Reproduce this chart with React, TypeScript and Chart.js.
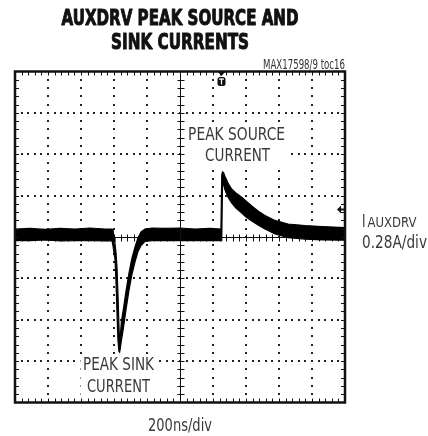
import React, { useEffect, useRef } from "react";
import { Chart, registerables } from "chart.js";

Chart.register(...registerables);

// ---- data (time in ns, current in A) ----
const timeNs = [
  0, 91, 182, 273, 364, 455, 545, 588, 594, 600, 606, 612, 618, 624, 630, 634, 638, 645, 658, 673,
  691, 709, 727, 745, 764, 788, 830, 909, 1000, 1091, 1182, 1248, 1253, 1258, 1264, 1273, 1291, 1313,
  1339, 1374, 1400, 1435, 1473, 1515, 1576, 1655, 1758, 1861, 2000,
];
const upperA = [
  0.054, 0.058, 0.051, 0.058, 0.054, 0.061, 0.054, 0.054, 0.047, 0.0, -0.047, -0.102, -0.2, -0.38,
  -0.6, -0.711, -0.67, -0.57, -0.48, -0.365, -0.243, -0.142, -0.068, -0.007, 0.034, 0.054, 0.061,
  0.058, 0.061, 0.054, 0.058, 0.054, 0.42, 0.44, 0.436, 0.41, 0.365, 0.325, 0.298, 0.27, 0.244,
  0.21, 0.176, 0.146, 0.112, 0.088, 0.078, 0.071, 0.064,
];
const lowerA = [
  -0.024, -0.024, -0.02, -0.027, -0.024, -0.024, -0.027, -0.024, -0.06, -0.11, -0.15, -0.3, -0.51,
  -0.7, -0.775, -0.78, -0.755, -0.7, -0.61, -0.49, -0.36, -0.252, -0.17, -0.1, -0.058, -0.03,
  -0.024, -0.024, -0.024, -0.024, -0.024, -0.024, -0.024, 0.372, 0.355, 0.318, 0.27, 0.23, 0.196, 0.162,
  0.135, 0.108, 0.081, 0.054, 0.02, -0.004, -0.014, -0.02, -0.022,
];

const xMinNs = 0;
const xMaxNs = 2000;
const xDivNs = 200;
const yDivA = 0.28;
const yMinA = -1.12;
const yMaxA = 1.12;
const triggerNs = 1250;
const markerLevelA = 0.19;
const sourceLabelNs = 1343;
const sinkLabelNs = 627;

const titleLines = ["AUXDRV PEAK SOURCE AND", "SINK CURRENTS"];
const tocLabel = "MAX17598/9 toc16";
const sourceLabel = ["PEAK SOURCE", "CURRENT"];
const sinkLabel = ["PEAK SINK", "CURRENT"];
const xUnitLabel = "200ns/div";
const yNameMain = "I";
const yNameSub = "AUXDRV";
const yUnitLabel = "0.28A/div";

const FAM = "'DejaVu Sans', sans-serif";

// draws text horizontally condensed so that it spans `width` pixels
function fitText(
  ctx: CanvasRenderingContext2D,
  text: string,
  x: number,
  y: number,
  width: number,
  align: "left" | "center" | "right",
  strokeW = 0
) {
  const w = ctx.measureText(text).width;
  const s = width / w;
  let left = x;
  if (align === "center") left = x - width / 2;
  else if (align === "right") left = x - width;
  ctx.save();
  ctx.translate(left, y);
  ctx.scale(s, 1);
  ctx.textAlign = "left";
  ctx.textBaseline = "middle";
  ctx.fillText(text, 0, 0);
  if (strokeW > 0) {
    ctx.strokeStyle = ctx.fillStyle as string;
    ctx.lineWidth = strokeW;
    ctx.lineJoin = "round";
    ctx.strokeText(text, 0, 0);
  }
  ctx.restore();
}

function whiteBox(ctx: CanvasRenderingContext2D, cx: number, top: number, bottom: number, width: number) {
  ctx.save();
  ctx.fillStyle = "#fff";
  ctx.fillRect(cx - width / 2, top, width, bottom - top);
  ctx.restore();
}

const scopePlugin = {
  id: "scope",
  beforeDatasetsDraw(chart: any) {
    const { ctx, chartArea: a, scales } = chart;
    const x = scales.x;
    const y = scales.y;
    const nx = Math.round((xMaxNs - xMinNs) / xDivNs);
    const ny = Math.round((yMaxA - yMinA) / yDivA);
    ctx.save();
    ctx.fillStyle = "#222";
    for (let i = 1; i < nx; i++) {
      if (i === nx / 2) continue;
      const px = Math.round(x.getPixelForValue(xMinNs + i * xDivNs));
      for (let k = 1; k < ny * 5; k++) {
        const py = Math.round(y.getPixelForValue(yMinA + (k * yDivA) / 5));
        ctx.fillRect(px - 1, py - 1, 2, 2);
      }
    }
    for (let j = 1; j < ny; j++) {
      if (j === ny / 2) continue;
      const py = Math.round(y.getPixelForValue(yMinA + j * yDivA));
      for (let k = 1; k < nx * 5; k++) {
        const px = Math.round(x.getPixelForValue(xMinNs + (k * xDivNs) / 5));
        ctx.fillRect(px - 1, py - 1, 2, 2);
      }
    }
    // center cross with minor ticks
    const cx = Math.round(x.getPixelForValue((xMinNs + xMaxNs) / 2)) + 0.5;
    const cy = Math.round(y.getPixelForValue((yMinA + yMaxA) / 2)) + 0.5;
    ctx.strokeStyle = "#111";
    ctx.lineWidth = 1;
    ctx.beginPath();
    ctx.moveTo(cx, a.top);
    ctx.lineTo(cx, a.bottom);
    ctx.moveTo(a.left, cy);
    ctx.lineTo(a.right, cy);
    for (let k = 1; k < ny * 5; k++) {
      const py = Math.round(y.getPixelForValue(yMinA + (k * yDivA) / 5)) + 0.5;
      ctx.moveTo(cx - 3, py);
      ctx.lineTo(cx + 4, py);
    }
    for (let k = 1; k < nx * 5; k++) {
      const px = Math.round(x.getPixelForValue(xMinNs + (k * xDivNs) / 5)) + 0.5;
      ctx.moveTo(px, cy - 3);
      ctx.lineTo(px, cy + 4);
    }
    ctx.stroke();
    ctx.restore();
  },
  afterDatasetsDraw(chart: any) {
    const { ctx, chartArea: a, scales } = chart;
    const x = scales.x;
    const y = scales.y;
    const nx = Math.round((xMaxNs - xMinNs) / xDivNs);
    const ny = Math.round((yMaxA - yMinA) / yDivA);
    ctx.save();

    // in-plot label backgrounds (behind frame/center line)
    const sx = x.getPixelForValue(sourceLabelNs);
    const kx = x.getPixelForValue(sinkLabelNs);
    whiteBox(ctx, sx, 126, 166, 102);
    whiteBox(ctx, kx, 356, 397, 76);

    // re-draw the center vertical line where boxes touched it
    const cx = Math.round(x.getPixelForValue((xMinNs + xMaxNs) / 2)) + 0.5;
    ctx.strokeStyle = "#111";
    ctx.lineWidth = 1;
    ctx.beginPath();
    ctx.moveTo(cx, a.top);
    ctx.lineTo(cx, a.bottom);
    ctx.stroke();

    // frame
    ctx.lineWidth = 2.5;
    ctx.strokeRect(a.left, a.top, a.right - a.left, a.bottom - a.top);
    ctx.lineWidth = 1;
    ctx.beginPath();
    for (let k = 1; k < nx * 5; k++) {
      const px = Math.round(x.getPixelForValue(xMinNs + (k * xDivNs) / 5)) + 0.5;
      ctx.moveTo(px, a.top);
      ctx.lineTo(px, a.top + 4);
      ctx.moveTo(px, a.bottom);
      ctx.lineTo(px, a.bottom - 4);
    }
    for (let k = 1; k < ny * 5; k++) {
      const py = Math.round(y.getPixelForValue(yMinA + (k * yDivA) / 5)) + 0.5;
      ctx.moveTo(a.left, py);
      ctx.lineTo(a.left + 4, py);
      ctx.moveTo(a.right, py);
      ctx.lineTo(a.right - 4, py);
    }
    ctx.stroke();

    // trigger marker
    const tx = Math.round(x.getPixelForValue(triggerNs)) + 0.5;
    ctx.fillStyle = "#111";
    ctx.beginPath();
    ctx.moveTo(tx - 4, a.top);
    ctx.lineTo(tx + 4, a.top);
    ctx.lineTo(tx, a.top + 4.5);
    ctx.closePath();
    ctx.fill();
    ctx.beginPath();
    if ((ctx as any).roundRect) (ctx as any).roundRect(tx - 4, a.top + 5.5, 8, 9, 2.5);
    else ctx.rect(tx - 4, a.top + 5.5, 8, 9);
    ctx.fill();
    ctx.fillStyle = "#fff";
    ctx.fillRect(tx - 2.5, a.top + 7, 5, 1.2);
    ctx.fillRect(tx - 0.6, a.top + 7, 1.2, 6);

    // right level arrow
    const ay = Math.round(y.getPixelForValue(markerLevelA)) + 0.5;
    ctx.fillStyle = "#111";
    ctx.beginPath();
    ctx.moveTo(a.right - 8, ay);
    ctx.lineTo(a.right - 4, ay - 4);
    ctx.lineTo(a.right - 4, ay + 4);
    ctx.closePath();
    ctx.fill();
    ctx.fillRect(a.right - 5, ay - 1, 4, 2);

    // in-plot labels
    ctx.font = `18px ${FAM}`;
    ctx.fillStyle = "#3a3a3a";
    fitText(ctx, sourceLabel[0], sx, 135.5, 97, "center");
    fitText(ctx, sourceLabel[1], sx + 1, 156.5, 65, "center");
    fitText(ctx, sinkLabel[0], kx, 365.5, 71, "center");
    fitText(ctx, sinkLabel[1], kx, 387.5, 63, "center");
    ctx.restore();
  },
  afterDraw(chart: any) {
    const { ctx, chartArea: a } = chart;
    ctx.save();
    const mid = (a.left + a.right) / 2;
    ctx.fillStyle = "#111";
    ctx.font = `bold 21px ${FAM}`;
    fitText(ctx, titleLines[0], mid, 19.5, 237, "center", 1);
    fitText(ctx, titleLines[1], mid, 43.5, 138, "center", 1);
    ctx.fillStyle = "#333";
    ctx.font = `13.5px ${FAM}`;
    fitText(ctx, tocLabel, a.right, 65, 82, "right");
    ctx.fillStyle = "#3a3a3a";
    ctx.font = `18px ${FAM}`;
    fitText(ctx, xUnitLabel, mid, 426, 64, "center");
    const lx = a.right + 17;
    fitText(ctx, yNameMain, lx, 222.5, 3.5, "left");
    ctx.font = `13.5px ${FAM}`;
    fitText(ctx, yNameSub, lx + 5.5, 223.5, 49, "left");
    ctx.font = `18px ${FAM}`;
    fitText(ctx, yUnitLabel, lx, 243, 65, "left");
    ctx.restore();
  },
};

export default function App() {
  const ref = useRef<HTMLCanvasElement | null>(null);
  useEffect(() => {
    if (!ref.current) return;
    const upper = timeNs.map((t, i) => ({ x: t, y: upperA[i] }));
    const lower = timeNs.map((t, i) => ({ x: t, y: lowerA[i] }));
    const chart = new Chart(ref.current, {
      type: "line",
      data: {
        datasets: [
          {
            data: upper,
            borderColor: "#000",
            borderWidth: 1.2,
            pointRadius: 0,
            fill: false,
            tension: 0,
          },
          {
            data: lower,
            borderColor: "#000",
            borderWidth: 1.2,
            pointRadius: 0,
            backgroundColor: "#000",
            fill: "-1",
            tension: 0,
          },
        ],
      },
      options: {
        animation: false,
        responsive: false,
        devicePixelRatio: 1,
        layout: { padding: { left: 15, top: 71.5, right: 83, bottom: 33.5 } },
        plugins: { legend: { display: false }, tooltip: { enabled: false }, title: { display: false } },
        scales: {
          x: { type: "linear", min: xMinNs, max: xMaxNs, display: false },
          y: { type: "linear", min: yMinA, max: yMaxA, display: false },
        },
      },
      plugins: [scopePlugin],
    });
    return () => chart.destroy();
  }, []);
  return (
    <div style={{ position: "absolute", left: 0, top: 0, width: 428, height: 436, background: "#fff" }}>
      <canvas ref={ref} width={428} height={436} style={{ display: "block" }} />
    </div>
  );
}
